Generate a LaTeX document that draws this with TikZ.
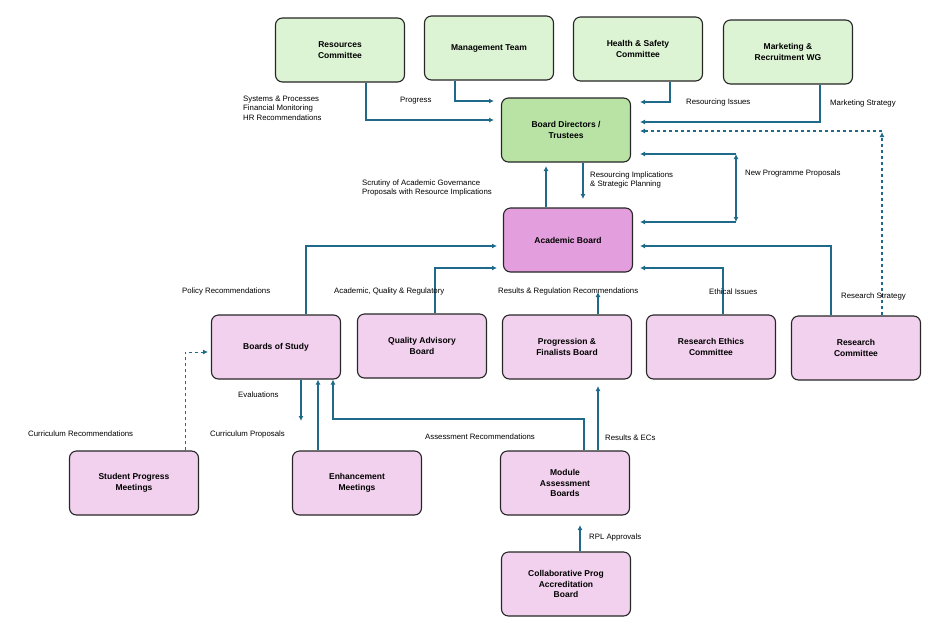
\documentclass[tikz,border=0pt]{standalone}
\usepackage{fontspec}
\setmainfont{Liberation Sans}
\usetikzlibrary{arrows.meta}
\definecolor{green1}{HTML}{DCF3D4}
\definecolor{green2}{HTML}{B8E3A5}
\definecolor{pink1}{HTML}{F2D1EE}
\definecolor{pink2}{HTML}{E39FDD}
\definecolor{flow}{HTML}{1F6A8A}
\tikzset{
  box/.style={draw=black!85,line width=1.1pt,rounded corners=7pt,minimum width=129pt,
    minimum height=64pt,align=center,font=\bfseries\fontsize{8.5}{10.5}\selectfont},
  link/.style={draw=flow,line width=1.2pt,-{Latex[length=5pt,width=5pt]}},
  lab/.style={font=\fontsize{7.8}{9.5}\selectfont,align=left,inner sep=0pt}
}
\begin{document}
\begin{tikzpicture}[x=1pt,y=-1pt]
      \useasboundingbox (0,0) rectangle (940,625);
      % top committees
      \node[box,fill=green1] (res) at (340,50) {Resources\\Committee};
      \node[box,fill=green1] (mgt) at (489,48) {Management Team};
      \node[box,fill=green1] (hs)  at (638,49) {Health \& Safety\\Committee};
      \node[box,fill=green1] (mkt) at (788,52) {Marketing \&\\Recruitment WG};
      \node[box,fill=green2] (bod) at (566,130) {Board Directors /\\Trustees};
      \node[box,fill=pink2]  (ab)  at (568,240) {Academic Board};
      % second row
      \node[box,fill=pink1] (bos) at (276,347) {Boards of Study};
      \node[box,fill=pink1] (qab) at (422,346) {Quality Advisory\\Board};
      \node[box,fill=pink1] (pfb) at (567,347) {Progression \&\\Finalists Board};
      \node[box,fill=pink1] (rec) at (711,347) {Research Ethics\\Committee};
      \node[box,fill=pink1] (rc)  at (856,348) {Research\\Committee};
      % lower rows
      \node[box,fill=pink1] (spm) at (134,483) {Student Progress\\Meetings};
      \node[box,fill=pink1] (enh) at (357,483) {Enhancement\\Meetings};
      \node[box,fill=pink1] (mab) at (565,483) {Module\\Assessment\\Boards};
      \node[box,fill=pink1] (cpa) at (566,584) {Collaborative Prog\\Accreditation\\Board};

      % into the board of directors
      \draw[link] (res.south -| 366,0) |- (494,120);
      \draw[link] (mgt.south -| 455,0) |- (494,101);
      \draw[link] (hs.south -| 670,0) |- (640,102);
      \draw[link] (mkt.south -| 820,0) |- (640,122);
      \draw[link,dashed] (rc.north -| 882,0) -- (882,132);
      \draw[link,dashed] (882,131) -- (640,131);
      \draw[link] (ab.north -| 546,0) -- (546,166);
      \draw[link] (bod.south -| 583,0) -- (583,199);
      \draw[link,{Latex[length=5pt,width=5pt]}-{Latex[length=5pt,width=5pt]}] (736,154) -- (736,222);
      \draw[link] (736,154) -- (640,154);
      \draw[link] (736,222) -- (640,222);
      % into the academic board
      \draw[link] (bos.north -| 306,0) |- (497,246);
      \draw[link] (qab.north -| 435,0) |- (497,268);
      \draw[link] (pfb.north -| 598,0) -- (598,292);
      \draw[link] (rec.north -| 723,0) |- (640,268);
      \draw[link] (rc.north -| 831,0) |- (640,246);
      % lower links
      \draw[link,dashed,line width=0.9pt] (spm.north -| 185,0) |- (208,352);
      \draw[link] (bos.south -| 301,0) -- (301,421);
      \draw[link] (enh.north -| 318,0) -- (bos.south -| 318,0);
      \draw[link] (mab.north -| 584,0) |- (333,419) -- (bos.south -| 333,0);
      \draw[link] (mab.north -| 598,0) -- (598,386);
      \draw[link] (cpa.north -| 580,0) -- (580,525);

      % labels
      \node[lab,anchor=west] (l1) at (243,108) {Systems \& Processes\\Financial Monitoring\\HR Recommendations};
      \node[lab,anchor=west] (l2) at (400,101) {Progress};
      \node[lab,anchor=west] (l3) at (686,102) {Resourcing Issues};
      \node[lab,anchor=west] (l4) at (830,103) {Marketing Strategy};
      \node[lab,anchor=west] (l5) at (362,188) {Scrutiny of Academic Governance\\Proposals with Resource Implications};
      \node[lab,anchor=west] (l6) at (590,180) {Resourcing Implications\\\& Strategic Planning};
      \node[lab,anchor=west] (l7) at (745,173) {New Programme Proposals};
      \node[lab,anchor=west] (l8) at (182,291) {Policy Recommendations};
      \node[lab,anchor=west] (l9) at (334,291) {Academic, Quality \& Regulatory};
      \node[lab,anchor=west] (l10) at (498,291) {Results \& Regulation Recommendations};
      \node[lab,anchor=west] (l11) at (709,292) {Ethical Issues};
      \node[lab,anchor=west] (l12) at (841,296) {Research Strategy};
      \node[lab,anchor=west] (l13) at (238,395) {Evaluations};
      \node[lab,anchor=west] (l14) at (28,434) {Curriculum Recommendations};
      \node[lab,anchor=west] (l15) at (210,434) {Curriculum Proposals};
      \node[lab,anchor=west] (l16) at (425,437) {Assessment Recommendations};
      \node[lab,anchor=west] (l17) at (605,438) {Results \& ECs};
      \node[lab,anchor=west] (l18) at (589,537) {RPL Approvals};
    \end{tikzpicture}
\end{document}
